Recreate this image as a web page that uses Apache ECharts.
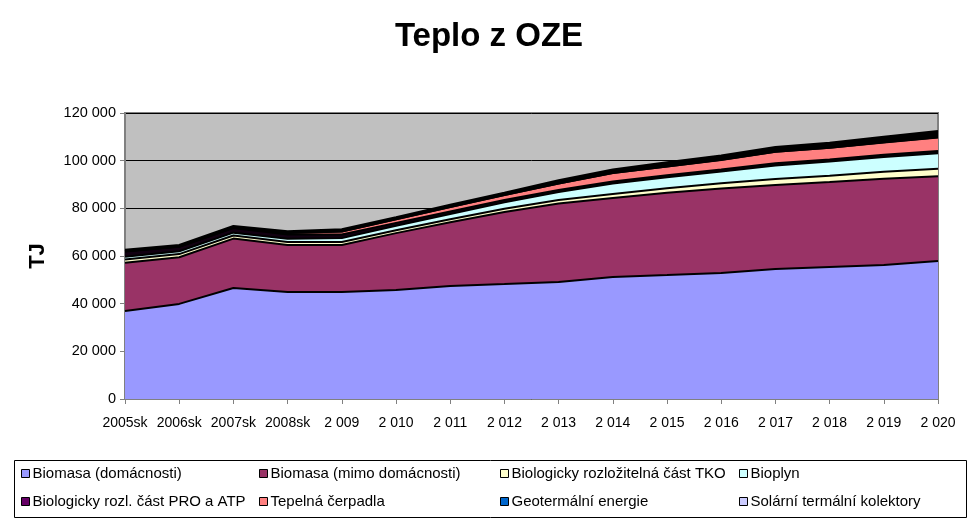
<!DOCTYPE html>
<html><head><meta charset="utf-8">
<script src="https://cdn.jsdelivr.net/npm/echarts@6/dist/echarts.min.js"></script>
<style>html,body{margin:0;padding:0;background:#fff}#c{width:978px;height:525px}</style>
</head><body><div id="c"></div>
<script>
const categories = ['2005sk','2006sk','2007sk','2008sk','2 009','2 010','2 011','2 012','2 013','2 014','2 015','2 016','2 017','2 018','2 019','2 020'];
const biomasaDom   = [36900,39900,46600,44900,44900,45700,47400,48200,49100,51200,52000,52900,54500,55400,56200,57900];
const biomasaMimo  = [20300,19600,20700,19700,19700,23900,26800,30300,32900,33100,34500,35400,35300,35600,36200,35600];
const tko          = [1300,1300,1300,1300,1300,1200,1200,1300,1500,1700,1900,2200,2500,2700,2900,3100];
const bioplyn      = [1200,1200,1200,1300,1600,1900,2200,2700,3300,4400,4600,4900,5700,5900,6200,6500];
const proAtp       = [2200,1900,1900,1800,1500,1200,1100,1000,900,900,900,900,900,900,950,1000];
const tepelnaCerp  = [100,100,200,600,1300,1500,1800,2100,2700,3500,3700,4000,4800,4900,5200,5600];
const geotermalni  = [0,0,0,0,0,0,0,0,0,0,0,50,50,50,50,100];
const solarni      = [600,600,700,800,900,900,1000,1000,1400,1500,1700,1800,2000,2100,2300,2600];
const yTicks = [0,20000,40000,60000,80000,100000,120000];

const seriesDefs = [
  {name:'Biomasa (domácnosti)', data:biomasaDom, color:'#9999ff', fill:'#9999ff'},
  {name:'Biomasa (mimo domácnosti)', data:biomasaMimo, color:'#993366', fill:'#993366'},
  {name:'Biologicky rozložitelná část TKO', data:tko, color:'#ffffcc', fill:'#ffffcc'},
  {name:'Bioplyn', data:bioplyn, color:'#ccffff', fill:'#ccffff'},
  {name:'Biologicky rozl. část PRO a ATP', data:proAtp, color:'#660066', fill:'#110011'},
  {name:'Tepelná čerpadla', data:tepelnaCerp, color:'#ff8080', fill:'#ff8080'},
  {name:'Geotermální energie', data:geotermalni, color:'#0066cc', fill:'#000000'},
  {name:'Solární termální kolektory', data:solarni, color:'#ccccff', fill:'#000000'}
];

const font = 'Liberation Sans, Arial, sans-serif';
const legendPos = [[21,466],[259,466],[500,466],[739,466],[21,494],[259,494],[500,494],[739,494]];
const legends = seriesDefs.map((s,i)=>({
  left: legendPos[i][0], top: legendPos[i][1], padding:0,
  icon:'rect', itemWidth:8, itemHeight:8, itemGap:0,
  selectedMode:false,
  textStyle:{fontFamily:font, fontSize:15, color:'#000', padding:[0,0,0,-2]},
  itemStyle:{borderColor:'#000', borderWidth:1},
  data:[{name:s.name, itemStyle:{color:s.color, borderColor:'#000', borderWidth:1}}]
}));

const chart = echarts.init(document.getElementById('c'), null, {renderer:'canvas'});
chart.setOption({
  animation:false,
  title:{text:'Teplo z OZE', left:'center', top:15, textStyle:{fontFamily:font, fontSize:33, fontWeight:'bold', color:'#000'}},
  legend: legends,
  graphic:[{type:'rect', shape:{x:14.5, y:460.5, width:952, height:57}, style:{fill:'none', stroke:'#000', lineWidth:1}, silent:true, z:-1}],
  grid:{left:125, top:113, right:40, bottom:126, show:true, backgroundColor:'#c0c0c0', borderColor:'#808080', borderWidth:2},
  xAxis:{type:'category', data:categories, boundaryGap:false,
    axisLine:{lineStyle:{color:'#808080', width:1}},
    axisTick:{show:true, inside:false, length:5, lineStyle:{color:'#808080'}, alignWithLabel:true},
    axisLabel:{fontFamily:font, fontSize:14, color:'#000', margin:17, interval:0},
    splitLine:{show:false}},
  yAxis:{type:'value', min:0, max:120000, interval:20000,
    name:'TJ', nameLocation:'middle', nameGap:76, nameRotate:90,
    nameTextStyle:{fontFamily:font, fontSize:22, fontWeight:'bold', color:'#000'},
    axisLine:{show:true, lineStyle:{color:'#808080', width:1}},
    axisTick:{show:true, length:5, lineStyle:{color:'#808080'}},
    axisLabel:{fontFamily:font, fontSize:14.5, color:'#000', margin:9,
      formatter:v=> yTicks.includes(v) ? String(v).replace(/\B(?=(\d{3})+(?!\d))/g,' ') : ''},
    splitLine:{show:true, lineStyle:{color:'#000', width:1}}},
  series: seriesDefs.map(s=>({
    name:s.name, type:'line', stack:'total', data:s.data,
    symbol:'none', smooth:false,
    itemStyle:{color:s.color},
    lineStyle:{color:'#000', width:2},
    areaStyle:{color:s.fill, opacity:1},
    z:2
  }))
});
</script></body></html>
